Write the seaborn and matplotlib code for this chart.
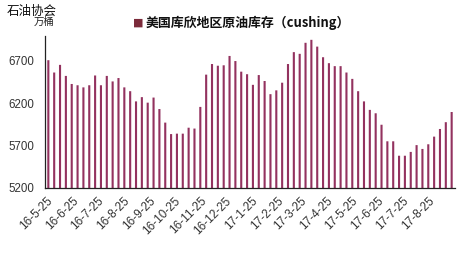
import matplotlib
matplotlib.use("Agg")
import matplotlib.pyplot as plt
import matplotlib.dates as mdates
import seaborn as sns
import pandas as pd
import numpy as np

# ---- data ----
start_date = "2016-05-27"
n_weeks = 70
stocks = [6705, 6560, 6650, 6520, 6425, 6410, 6385, 6410, 6525, 6410,
          6520, 6455, 6495, 6385, 6340, 6220, 6270, 6205, 6265, 6130,
          5970, 5835, 5840, 5840, 5910, 5900, 6155, 6535, 6660, 6640,
          6645, 6755, 6695, 6570, 6540, 6415, 6530, 6460, 6305, 6350,
          6440, 6660, 6800, 6780, 6910, 6945, 6865, 6740, 6670, 6635,
          6635, 6560, 6485, 6340, 6220, 6120, 6080, 5945, 5750, 5750,
          5580, 5580, 5625, 5705, 5660, 5715, 5805, 5895, 5975, 6095]
tick_dates = ["2016-05-25", "2016-06-25", "2016-07-25", "2016-08-25", "2016-09-25",
              "2016-10-25", "2016-11-25", "2016-12-25", "2017-01-25", "2017-02-25",
              "2017-03-25", "2017-04-25", "2017-05-25", "2017-06-25", "2017-07-25",
              "2017-08-25"]
tick_labels = ["16-5-25", "16-6-25", "16-7-25", "16-8-25", "16-9-25", "16-10-25",
               "16-11-25", "16-12-25", "17-1-25", "17-2-25", "17-3-25", "17-4-25",
               "17-5-25", "17-6-25", "17-7-25", "17-8-25"]
y_ticks = [5200, 5700, 6200, 6700]
title = "美国库欣地区原油库存（cushing）"
source = "石油协会"
unit = "万桶"

dates = pd.date_range(start_date, periods=n_weeks, freq="7D")
df = pd.DataFrame({"x": mdates.date2num(dates), "v": stocks})

sns.set_style("white")
plt.rcParams["font.family"] = ["Noto Sans CJK SC", "DejaVu Sans"]

fig = plt.figure(figsize=(4.68, 2.60), dpi=100)
ax = fig.add_axes([45 / 468, 1 - 188 / 260, 410 / 468, 152 / 260])

sns.barplot(data=df, x="x", y="v", native_scale=True, width=0.36,
            color="#93325F", errorbar=None, ax=ax, linewidth=0, saturation=1)
for p in ax.patches:
    p.set_snap(False)
    p.set_antialiased(True)

ax.set_ylim(5200, 6990)
ax.set_xlim(mdates.date2num(pd.Timestamp("2016-05-23")),
            mdates.date2num(pd.Timestamp("2017-09-26")))
ax.set_yticks(y_ticks)
ax.set_yticklabels([str(t) for t in y_ticks], family="Liberation Sans",
                   fontsize=8.3, color="#333333")
tx = mdates.date2num(pd.to_datetime(tick_dates))
ax.set_xticks(tx)
ax.set_xticklabels(tick_labels, rotation=45, ha="right", rotation_mode="anchor",
                   family="Liberation Sans", fontsize=8.5, color="#333333")
ax.set_xlabel("")
ax.set_ylabel("")
ax.tick_params(axis="both", direction="in", length=3, width=0.8, color="#222222")
ax.tick_params(axis="x", pad=5)
ax.tick_params(axis="y", pad=8)
for s in ["top", "right"]:
    ax.spines[s].set_visible(False)
for s in ["left", "bottom"]:
    ax.spines[s].set_color("#222222")
    ax.spines[s].set_linewidth(0.9)

fig.text(7 / 468, 1 - 11 / 260, source, fontsize=9, va="center", ha="left", color="#111111")
fig.text(44 / 468, 1 - 22 / 260, unit, fontsize=7.5, va="center", ha="center", color="#222222")
fig.text(138 / 468, 1 - 23 / 260, "■", fontsize=8, va="center", ha="center",
         color="#7B2A3A", family="DejaVu Sans")
fig.text(146 / 468, 1 - 23 / 260, title, fontsize=9.3, va="center", ha="left",
         fontweight="bold", color="#111111")

fig.savefig("out.png", dpi=100)
